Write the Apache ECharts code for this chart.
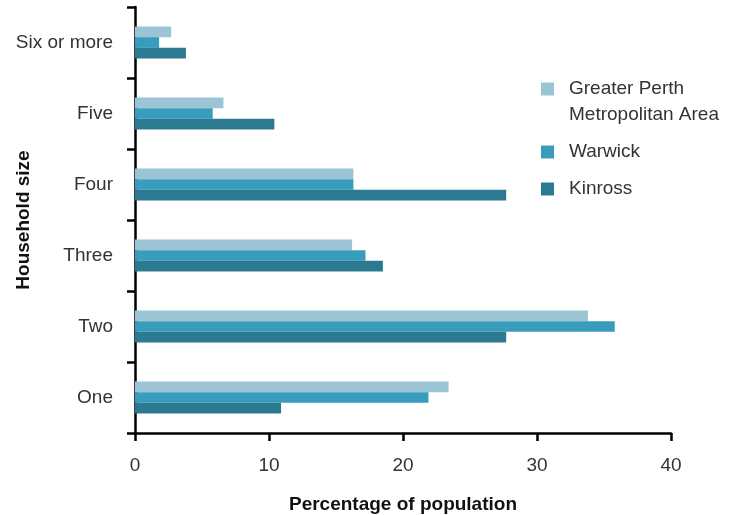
<!DOCTYPE html>
<html><head><meta charset="utf-8">
<script src="https://cdn.jsdelivr.net/npm/echarts@6/dist/echarts.min.js"></script>
<style>html,body{margin:0;padding:0;background:#fff}#c{width:731px;height:515px}</style>
</head><body><div id="c"></div>
<script>
const categories = ['One', 'Two', 'Three', 'Four', 'Five', 'Six or more'];
const perth   = [23.4, 33.8, 16.2, 16.3, 6.6, 2.7];
const warwick = [21.9, 35.8, 17.2, 16.3, 5.8, 1.8];
const kinross = [10.9, 27.7, 18.5, 27.7, 10.4, 3.8];
const xTicks = [0, 10, 20, 30, 40];
const seriesNames = ['Greater Perth\nMetropolitan Area', 'Warwick', 'Kinross'];

const font = 'Liberation Sans';
const fs = 19;
const chart = echarts.init(document.getElementById('c'));
chart.setOption({
  animation: false,
  textStyle: { fontFamily: font },
  grid: { left: 135, right: 60, top: 7, bottom: 82, containLabel: false, outerBoundsMode: 'none' },
  legend: {
    orient: 'vertical', left: 541, top: 50, padding: 0,
    itemWidth: 13, itemHeight: 13, itemGap: 11,
    data: seriesNames,
    formatter: name => name.indexOf('\n') >= 0 ? '\n' + name : name,
    textStyle: { fontFamily: font, fontSize: fs, color: '#333', lineHeight: 26, padding: [0, 0, 0, 10] },
    icon: 'rect'
  },
  xAxis: {
    type: 'value', min: xTicks[0], max: xTicks[xTicks.length - 1], interval: 10,
    name: 'Percentage of population', nameLocation: 'middle', nameGap: 62,
    nameTextStyle: { fontFamily: font, fontSize: fs, fontWeight: 'bold', color: '#111' },
    axisLine: { show: true, lineStyle: { color: '#000', width: 2.5 } },
    axisTick: { show: true, length: 8, lineStyle: { color: '#000', width: 2.5 } },
    axisLabel: { fontFamily: font, fontSize: fs, color: '#333', margin: 23 },
    splitLine: { show: false }
  },
  yAxis: {
    type: 'category', data: categories,
    name: 'Household size', nameLocation: 'middle', nameGap: 102, nameMoveOverlap: false,
    nameTextStyle: { fontFamily: font, fontSize: fs, fontWeight: 'bold', color: '#111' },
    axisLine: { show: true, lineStyle: { color: '#000', width: 2.5 } },
    axisTick: { show: true, length: 8, lineStyle: { color: '#000', width: 2.5 } },
    axisLabel: { fontFamily: font, fontSize: fs, color: '#333', margin: 22 }
  },
  series: [
    { name: seriesNames[0], type: 'bar', data: perth, itemStyle: { color: '#9BC4D5' }, barGap: '0%', barCategoryGap: '55%' },
    { name: seriesNames[1], type: 'bar', data: warwick, itemStyle: { color: '#389DBD' }, barGap: '0%', barCategoryGap: '55%' },
    { name: seriesNames[2], type: 'bar', data: kinross, itemStyle: { color: '#2C7A92' }, barGap: '0%', barCategoryGap: '55%' }
  ]
});
</script></body></html>
